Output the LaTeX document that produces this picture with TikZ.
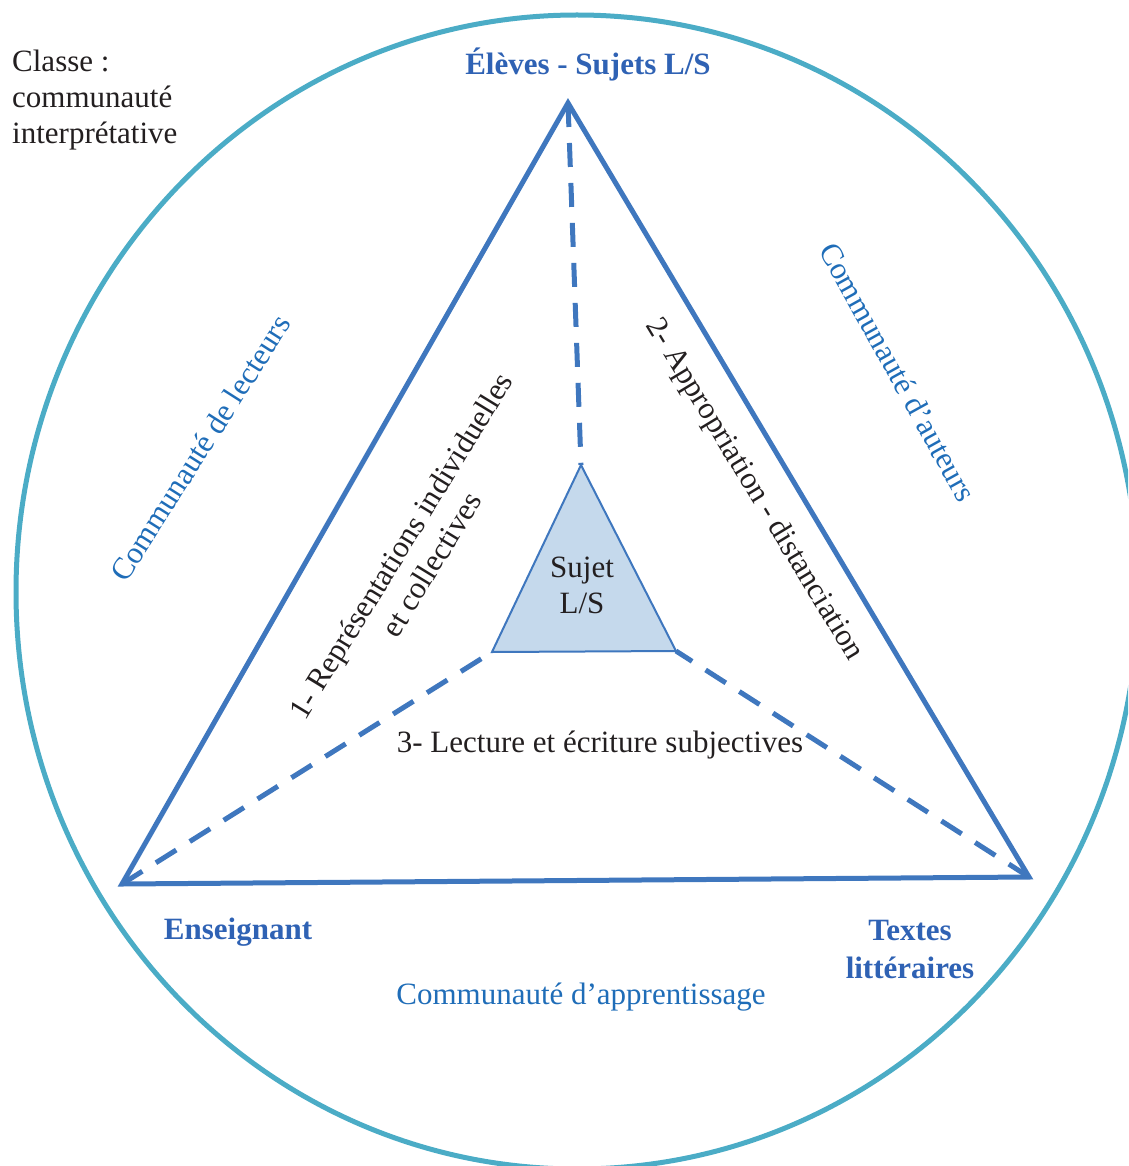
\documentclass[tikz,border=0pt]{standalone}
\usepackage{fontspec}
\setmainfont{Liberation Serif}
\definecolor{ringc}{HTML}{4BACC6}
\definecolor{tric}{HTML}{3F77BE}
\definecolor{labc}{HTML}{2F62B4}
\definecolor{commc}{HTML}{1F6DB8}
\definecolor{txtc}{HTML}{231F20}
\definecolor{smallfill}{HTML}{C5D9EC}
\begin{document}
\begin{tikzpicture}[x=1pt,y=-1pt,
  ring/.style={draw=ringc, line width=5pt},
  bigtri/.style={draw=tric, line width=5pt, line join=miter},
  dashlink/.style={draw=tric, line width=5pt, dash pattern=on 24pt off 16pt},
  smalltri/.style={draw=tric, fill=smallfill, line width=2pt, line join=miter},
  vlabel/.style={font=\bfseries\fontsize{31}{38}\selectfont, text=labc, align=center, inner sep=0pt},
  clabel/.style={font=\fontsize{31}{36}\selectfont, text=commc, inner sep=0pt},
  txt/.style={font=\fontsize{31}{36}\selectfont, text=txtc, align=center, inner sep=0pt}]
\useasboundingbox (0,0) rectangle (1128,1166);
\clip (0,0) rectangle (1128,1166);
\draw[ring] (577,592) ellipse [x radius=561, y radius=577];

\coordinate (A) at (568,103);
\coordinate (B) at (122,884);
\coordinate (C) at (1029,877);
\coordinate (sa) at (581,465);
\coordinate (sb) at (492,652);
\coordinate (sc) at (676,651);

\draw[bigtri] (A) -- (B) -- (C) -- cycle;
\draw[dashlink] (A) -- (sa);
\draw[dashlink] (B) -- (sb);
\draw[dashlink] (C) -- (sc);
\draw[smalltri] (sa) -- (sb) -- (sc) -- cycle;

\node[vlabel] (eleves) at (588,65) {Élèves - Sujets L/S};
\node[vlabel] (ens) at (238,932) {Enseignant};
\node[vlabel] (textes) at (910,949) {Textes\\littéraires};
\node[clabel] (app) at (581,997) {Communauté d’apprentissage};
\node[clabel, rotate=57.5] (lect) at (200,448) {Communauté de lecteurs};
\node[clabel, rotate=-61] (aut) at (898,372) {Communauté d’auteurs};
\node[txt, rotate=58.5] (rep) at (416,555) {1- Représentations individuelles\\et collectives};
\node[txt, rotate=-58.8] (appr) at (754,490) {2- Appropriation - distanciation};
\node[txt] (lecture) at (600,745) {3- Lecture et écriture subjectives};
\node[txt] (sujet) at (582,585) {Sujet\\L/S};
\node[txt, anchor=west, align=left] (classe) at (12,100) {Classe :\\communauté\\interprétative};
\end{tikzpicture}
\end{document}
